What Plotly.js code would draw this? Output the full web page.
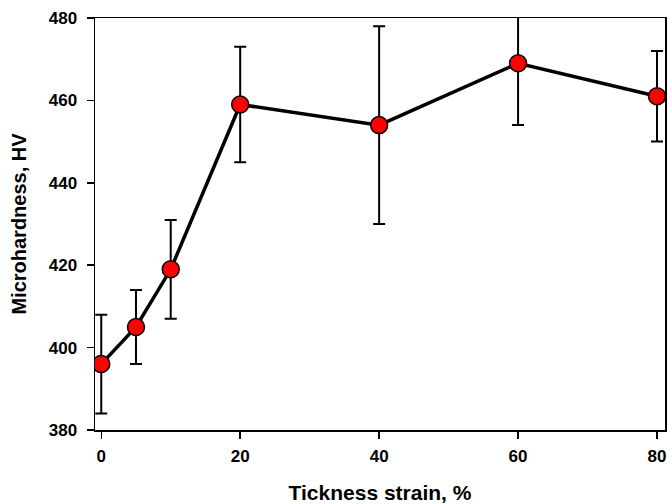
<!DOCTYPE html>
<html>
<head>
<meta charset="utf-8">
<script src="https://cdn.plot.ly/plotly-3.0.1.min.js"></script>
<style>
  html, body { margin: 0; padding: 0; background: #fff; }
  #chart { width: 668px; height: 504px; }
</style>
</head>
<body>
<div id="chart"></div>
<script>
// Thickness strain (%) vs. microhardness (HV) with measurement scatter
const strain = [0, 5, 10, 20, 40, 60, 80];
const hardness = [396, 405, 419, 459, 454, 469, 461];
const errUpper = [12, 9, 12, 14, 24, 15, 11];
const errLower = [12, 9, 12, 14, 24, 15, 11];

const xTicks = [0, 20, 40, 60, 80];
const yTicks = [380, 400, 420, 440, 460, 480];

const fontFamily = '"Liberation Sans", Arial, sans-serif';

const trace = {
  x: strain,
  y: hardness,
  type: 'scatter',
  mode: 'lines+markers',
  line: { color: '#000', width: 3.5 },
  marker: { color: '#ff0000', size: 17, line: { color: '#000', width: 1.5 } },
  error_y: {
    type: 'data',
    symmetric: false,
    array: errUpper,
    arrayminus: errLower,
    color: '#000',
    thickness: 2,
    width: 6
  },
  cliponaxis: true,
  hoverinfo: 'x+y'
};

const axisCommon = {
  showline: true,
  mirror: true,
  linecolor: '#000',
  linewidth: 1.5,
  showgrid: false,
  zeroline: false,
  ticks: 'outside',
  ticklen: 7,
  tickwidth: 1.5,
  tickcolor: '#000',
  tickfont: { family: fontFamily, size: 17, color: '#000', weight: 'bold' }
};

const layout = {
  width: 668,
  height: 504,
  margin: { l: 95, r: 3, t: 18, b: 74 },
  paper_bgcolor: '#fff',
  plot_bgcolor: '#fff',
  showlegend: false,
  xaxis: Object.assign({}, axisCommon, {
    range: [-0.9, 81.15],
    tickvals: xTicks,
    ticktext: xTicks.map(String),
    ticklabelstandoff: 3,
    title: { text: 'Tickness strain, %', font: { family: fontFamily, size: 21, color: '#000', weight: 'bold' }, standoff: 20 }
  }),
  yaxis: Object.assign({}, axisCommon, {
    range: [380, 480],
    tickvals: yTicks,
    ticktext: yTicks.map(String),
    ticklabelstandoff: 6,
    title: { text: 'Microhardness, HV', font: { family: fontFamily, size: 20, color: '#000', weight: 'bold' }, standoff: 16 }
  })
};

Plotly.newPlot('chart', [trace], layout, { displayModeBar: false, staticPlot: true });
</script>
</body>
</html>
